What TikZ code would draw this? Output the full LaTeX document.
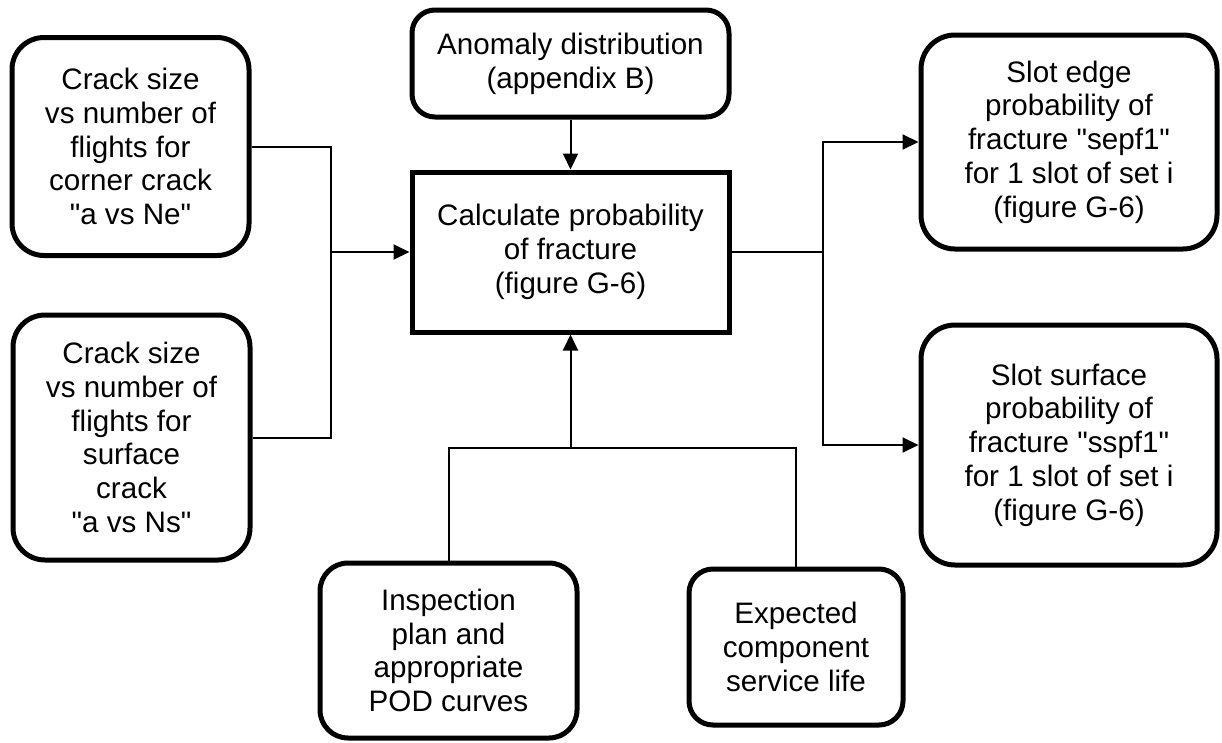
\documentclass[tikz,border=0pt]{standalone}
\usepackage{fontspec}
\setmainfont{Liberation Sans}[Ligatures=TeXOff]
\usetikzlibrary{arrows.meta}
\begin{document}
\begin{tikzpicture}[x=1pt,y=-1pt,
  box/.style={draw, line width=5pt, rounded corners=#1, inner sep=0pt,
    align=center, font=\fontsize{29.6}{33.7}\selectfont},
  box/.default=28pt,
  mainbox/.style={draw, line width=5pt, sharp corners, inner sep=0pt,
    align=center, font=\fontsize{29.6}{33.7}\selectfont},
  link/.style={draw, line width=2pt},
  flow/.style={link, -{Triangle[length=16pt,width=15pt]}}]
\useasboundingbox (0,0) rectangle (1222,742);

% input boxes
\node[box=32pt, minimum width=237pt, minimum height=218pt] (ctop) at (130.5,146.5)
  {Crack size\\vs number of\\flights for\\corner crack\\"a vs Ne"};
\node[box=32pt, minimum width=237pt, minimum height=245pt] (cbot) at (131.5,437.5)
  {Crack size\\vs number of\\flights for\\surface\\crack\\"a vs Ns"};
\node[box=23pt, minimum width=317pt, minimum height=107pt] (anom) at (570.5,63.5)
  {Anomaly distribution\\(appendix B)};
\node[box=28pt, minimum width=257pt, minimum height=175pt] (insp) at (448.5,650.5)
  {Inspection\\plan and\\appropriate\\POD curves};
\node[box=24pt, minimum width=214pt, minimum height=156pt] (life) at (796,647)
  {Expected\\component\\service life};

% central calculation
\node[mainbox, minimum width=317pt, minimum height=160pt] (calc) at (570.5,252)
  {Calculate probability\\of fracture\\(figure G-6)};

% results
\node[box=34pt, minimum width=296pt, minimum height=214pt] (sepf) at (1069,142)
  {Slot edge\\probability of\\fracture "sepf1"\\for 1 slot of set i\\(figure G-6)};
\node[box=34pt, minimum width=296pt, minimum height=240pt] (sspf) at (1069,445)
  {Slot surface\\probability of\\fracture "sspf1"\\for 1 slot of set i\\(figure G-6)};

% junction points
\coordinate (mergeL) at (331,252);
\coordinate (splitR) at (823,252);
\coordinate (joinB) at (570.5,448);

% connectors
\draw[flow] (anom.south) -- (calc.north);
\draw[link] (ctop.east) -| (mergeL);
\draw[link] (cbot.east) -| (mergeL);
\draw[flow] (mergeL) -- (calc.west);
\draw[link] (calc.east) -- (splitR);
\draw[flow] (splitR) |- (sepf.west);
\draw[flow] (splitR) |- (sspf.west);
\draw[link] (insp.north) |- (joinB);
\draw[link] (life.north) |- (joinB);
\draw[flow] (joinB) -- (calc.south);
\end{tikzpicture}
\end{document}
